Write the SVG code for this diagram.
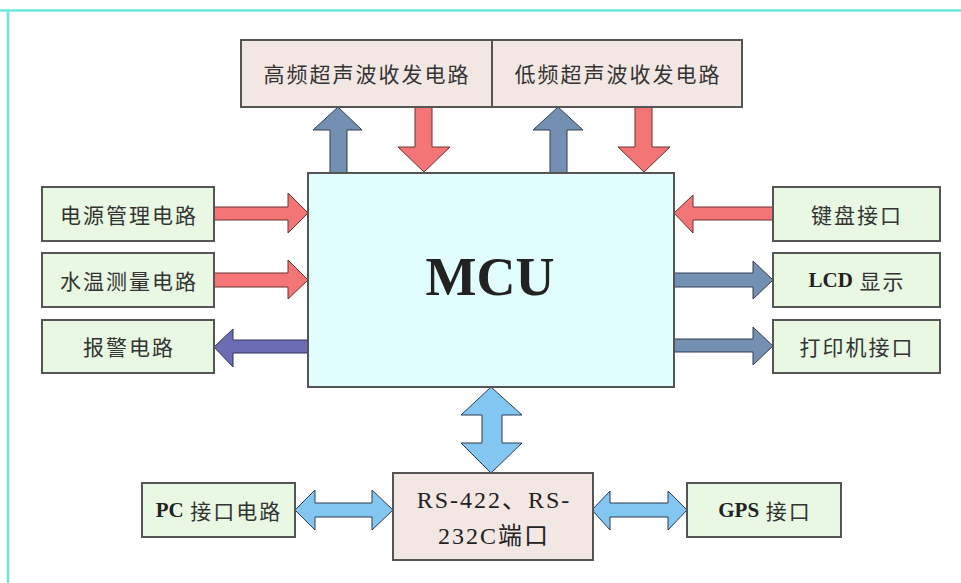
<svg xmlns="http://www.w3.org/2000/svg" width="961" height="583" viewBox="0 0 961 583">
<style>
.box{stroke:#555;stroke-width:2}
.pink{fill:#f3e7e4}
.green{fill:#e8f8e2}
.mcu{fill:#e2fdfd}
.t{font-family:"Noto Sans CJK SC","Noto Sans CJK JP",sans-serif;font-size:21px;letter-spacing:2px;fill:#333;text-anchor:middle;dominant-baseline:central}
.s{font-family:"Liberation Serif","Noto Sans CJK SC",serif;text-anchor:middle;fill:#222}
.b{font-family:"Liberation Serif",serif;font-weight:bold;fill:#222;letter-spacing:0}
.red{fill:#f47575;stroke:#6a3030;stroke-width:1}
.bg{fill:#7390b2;stroke:#333c50;stroke-width:1}
.pu{fill:#6c6cb4;stroke:#33335a;stroke-width:1}
.lb{fill:#84c6f2;stroke:#2a3a50;stroke-width:1}
</style>
<rect width="961" height="583" fill="#fff"/>
<line x1="0" y1="10.5" x2="961" y2="10.5" stroke="#6fe8dc" stroke-width="2.5"/>
<line x1="8" y1="10" x2="8" y2="583" stroke="#6fe8dc" stroke-width="2.5"/>

<g id="connectors">
  <polygon class="bg" points="330,173 330,130 313,130 338,107 362,130 347,130 347,173"/>
  <polygon class="red" points="415,107 432,107 432,147 450,147 424,172 398,147 415,147"/>
  <polygon class="bg" points="550,173 550,130 533,130 558,107 583,130 567,130 567,173"/>
  <polygon class="red" points="635,107 652,107 652,147 670,147 644,172 618,147 635,147"/>
  <polygon class="red" points="214,207 288,207 288,193 308,213 288,233 288,220 214,220"/>
  <polygon class="red" points="214,273 288,273 288,260 308,280 288,299 288,287 214,287"/>
  <polygon class="pu" points="308,340 233,340 233,329 214,347 233,367 233,353 308,353"/>
  <polygon class="red" points="773,207 693,207 693,195 674,213 693,233 693,220 773,220"/>
  <polygon class="bg" points="674,273 753,273 753,261 773,280 753,299 753,287 674,287"/>
  <polygon class="bg" points="674,339 753,339 753,327 773,346 753,365 753,352 674,352"/>
  <polygon class="lb" points="491,387 522,415 502,415 502,443 522,443 491,473 461,443 482,443 482,415 461,415"/>
  <polygon class="lb" points="295,510 315,490 315,503 372,503 372,490 393,510 372,530 372,517 315,517 315,530"/>
  <polygon class="lb" points="592,510 610,491 610,503 668,503 668,491 687,510 668,530 668,517 610,517 610,530"/>
</g>

<g id="high-freq">
  <rect class="box pink" x="241" y="40" width="251" height="67"/>
  <text class="t" x="367" y="73">高频超声波收发电路</text>
</g>
<g id="low-freq">
  <rect class="box pink" x="492" y="40" width="250" height="67"/>
  <text class="t" x="618" y="73">低频超声波收发电路</text>
</g>
<g id="mcu">
  <rect class="box mcu" x="308" y="173" width="366" height="214"/>
  <text class="s" x="490" y="295" font-size="54" font-weight="bold" fill="#111">MCU</text>
</g>
<g id="power">
  <rect class="box green" x="42" y="187" width="172" height="54"/>
  <text class="t" x="129" y="214">电源管理电路</text>
</g>
<g id="temp">
  <rect class="box green" x="42" y="253" width="172" height="54"/>
  <text class="t" x="129" y="280">水温测量电路</text>
</g>
<g id="alarm">
  <rect class="box green" x="42" y="320" width="172" height="53"/>
  <text class="t" x="129" y="346">报警电路</text>
</g>
<g id="keyboard">
  <rect class="box green" x="773" y="187" width="167" height="54"/>
  <text class="t" x="857" y="214">键盘接口</text>
</g>
<g id="lcd">
  <rect class="box green" x="773" y="253" width="167" height="54"/>
  <text class="t" x="857" y="280"><tspan class="b">LCD</tspan> 显示</text>
</g>
<g id="printer">
  <rect class="box green" x="773" y="320" width="167" height="53"/>
  <text class="t" x="857" y="346">打印机接口</text>
</g>
<g id="rs">
  <rect class="box pink" x="393" y="473" width="200" height="87"/>
  <text class="s" x="494" y="508" font-size="24" letter-spacing="2">RS-422、RS-</text>
  <text class="s" x="494" y="544" font-size="24" letter-spacing="2">232C端口</text>
</g>
<g id="pc">
  <rect class="box green" x="142" y="483" width="153" height="54"/>
  <text class="t" x="219" y="510"><tspan class="b">PC</tspan> 接口电路</text>
</g>
<g id="gps">
  <rect class="box green" x="687" y="483" width="154" height="54"/>
  <text class="t" x="765" y="510"><tspan class="b">GPS</tspan> 接口</text>
</g>
</svg>
